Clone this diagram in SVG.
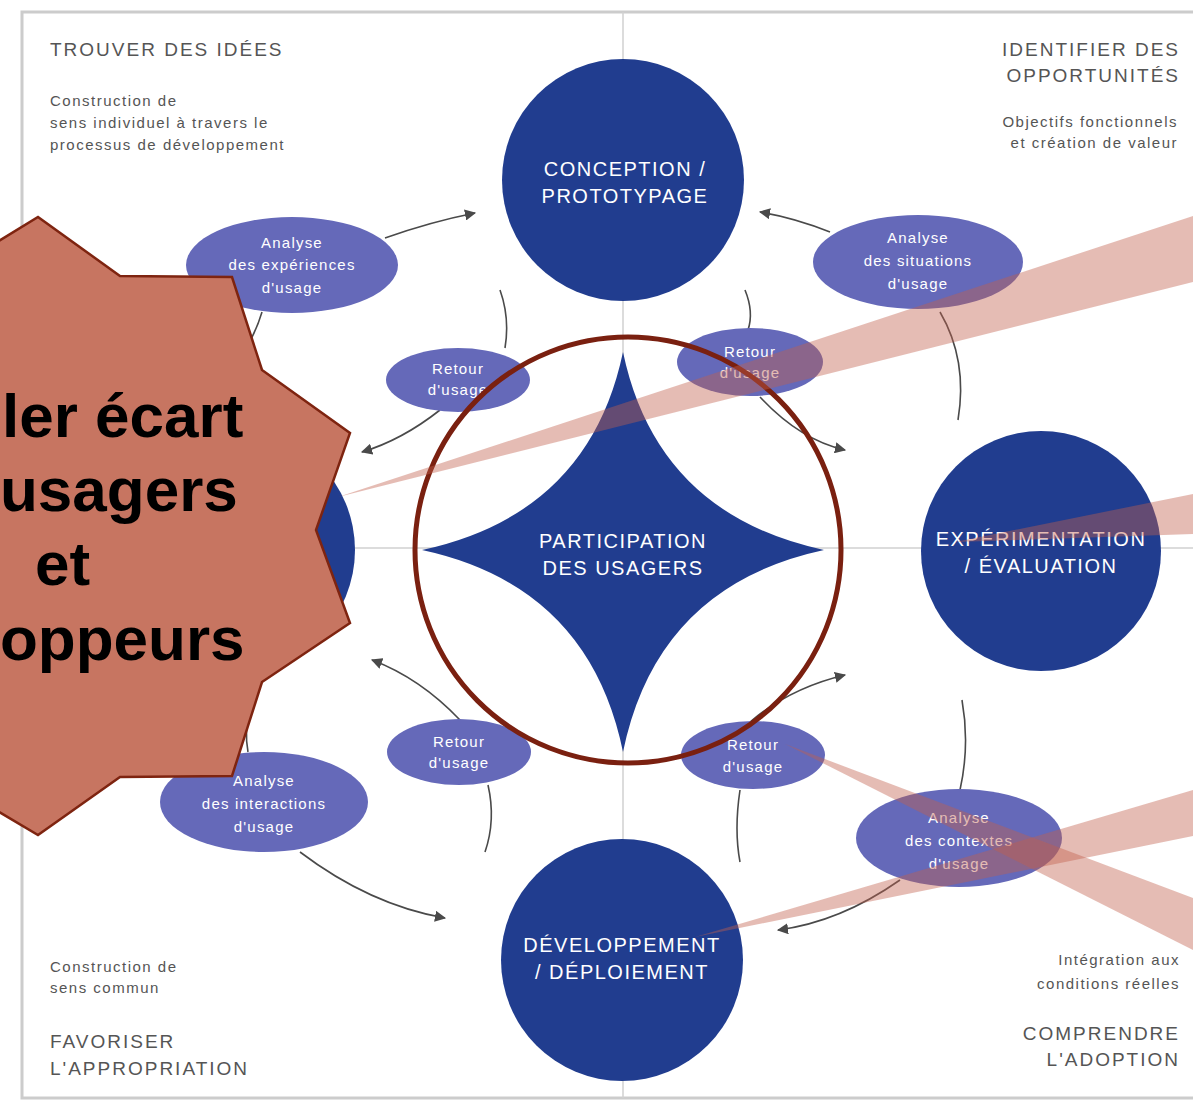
<svg xmlns="http://www.w3.org/2000/svg" width="1193" height="1102" viewBox="0 0 1193 1102">
<defs>
<style>
.big{fill:#213d8f}
.ell{fill:#6569b9}
.ct{font-family:"Liberation Sans",Arial,sans-serif;font-size:20px;fill:#ffffff;text-anchor:middle;letter-spacing:1.5px}
.et{font-family:"Liberation Sans",Arial,sans-serif;font-size:15px;fill:#ffffff;text-anchor:middle;letter-spacing:1.2px}
.hd{font-family:"Liberation Sans",Arial,sans-serif;font-size:19px;fill:#555555;letter-spacing:2px}
.sb{font-family:"Liberation Sans",Arial,sans-serif;font-size:15px;fill:#555555;letter-spacing:1.5px}
.con{fill:none;stroke:#4a4a4a;stroke-width:1.6}
.bar{fill:#c0604c;fill-opacity:0.42}
.cal{font-family:"Liberation Sans",Arial,sans-serif;font-size:62px;font-weight:bold;fill:#000000}
</style>
<marker id="ah" viewBox="0 0 10 10" refX="9" refY="5" markerWidth="7" markerHeight="7" orient="auto-start-reverse">
<path d="M0,0 L10,5 L0,10 z" fill="#4a4a4a"/>
</marker>
</defs>
<rect width="1193" height="1102" fill="#ffffff"/>
<g id="frame">
<rect x="22" y="12" width="1180" height="1086" fill="none" stroke="#cccccc" stroke-width="3"/>
<line x1="623" y1="12" x2="623" y2="1098" stroke="#d0d0d0" stroke-width="1.5"/>
<line x1="22" y1="548" x2="1193" y2="548" stroke="#d0d0d0" stroke-width="1.5"/>
</g>
<g id="corner-labels">
<text class="hd" x="50" y="56">TROUVER DES IDÉES</text>
<text class="sb" x="50" y="106">Construction de</text>
<text class="sb" x="50" y="128">sens individuel à travers le</text>
<text class="sb" x="50" y="150">processus de développement</text>
<text class="hd" x="1180" y="56" text-anchor="end">IDENTIFIER DES</text>
<text class="hd" x="1180" y="82" text-anchor="end">OPPORTUNITÉS</text>
<text class="sb" x="1178" y="127" text-anchor="end">Objectifs fonctionnels</text>
<text class="sb" x="1178" y="148" text-anchor="end">et création de valeur</text>
<text class="sb" x="50" y="972">Construction de</text>
<text class="sb" x="50" y="993">sens commun</text>
<text class="hd" x="50" y="1048">FAVORISER</text>
<text class="hd" x="50" y="1075">L'APPROPRIATION</text>
<text class="sb" x="1180" y="965" text-anchor="end">Intégration aux</text>
<text class="sb" x="1180" y="989" text-anchor="end">conditions réelles</text>
<text class="hd" x="1180" y="1040" text-anchor="end">COMPRENDRE</text>
<text class="hd" x="1180" y="1066" text-anchor="end">L'ADOPTION</text>
</g>
<g id="connectors">
<path class="con" d="M385,238 Q430,222 475,213" marker-end="url(#ah)"/>
<path class="con" d="M830,232 Q795,218 760,212" marker-end="url(#ah)"/>
<path class="con" d="M262,312 Q256,332 245,350"/>
<path class="con" d="M940,312 Q968,360 958,420"/>
<path class="con" d="M500,290 Q510,318 505,348"/>
<path class="con" d="M440,410 Q402,440 362,452" marker-end="url(#ah)"/>
<path class="con" d="M745,290 Q754,312 748,330"/>
<path class="con" d="M760,397 Q800,440 845,450" marker-end="url(#ah)"/>
<path class="con" d="M460,720 Q420,678 372,660" marker-end="url(#ah)"/>
<path class="con" d="M488,785 Q496,820 485,852"/>
<path class="con" d="M750,722 Q790,688 845,675" marker-end="url(#ah)"/>
<path class="con" d="M740,790 Q734,830 740,862"/>
<path class="con" d="M300,852 Q370,905 445,918" marker-end="url(#ah)"/>
<path class="con" d="M900,880 Q840,922 778,930" marker-end="url(#ah)"/>
<path class="con" d="M962,700 Q970,745 960,790"/>
<path class="con" d="M248,752 Q244,730 250,708"/>
</g>
<g id="node-conception">
<circle class="big" cx="623" cy="180" r="121"/>
<text class="ct" x="625" y="176">CONCEPTION /</text>
<text class="ct" x="625" y="203">PROTOTYPAGE</text>
</g>
<g id="node-experimentation">
<circle class="big" cx="1041" cy="551" r="120"/>
<text class="ct" x="1041" y="546">EXPÉRIMENTATION</text>
<text class="ct" x="1041" y="573">/ ÉVALUATION</text>
</g>
<g id="node-developpement">
<circle class="big" cx="622" cy="960" r="121"/>
<text class="ct" x="622" y="952">DÉVELOPPEMENT</text>
<text class="ct" x="622" y="979">/ DÉPLOIEMENT</text>
</g>
<g id="node-left">
<circle class="big" cx="233" cy="550" r="122"/>
</g>
<g id="node-analyse-tl">
<ellipse class="ell" cx="292" cy="265" rx="106" ry="48"/>
<text class="et" x="292" y="248">Analyse</text>
<text class="et" x="292" y="270">des expériences</text>
<text class="et" x="292" y="293">d'usage</text>
</g>
<g id="node-analyse-tr">
<ellipse class="ell" cx="918" cy="262" rx="105" ry="47"/>
<text class="et" x="918" y="243">Analyse</text>
<text class="et" x="918" y="266">des situations</text>
<text class="et" x="918" y="289">d'usage</text>
</g>
<g id="node-analyse-bl">
<ellipse class="ell" cx="264" cy="802" rx="104" ry="50"/>
<text class="et" x="264" y="786">Analyse</text>
<text class="et" x="264" y="809">des interactions</text>
<text class="et" x="264" y="832">d'usage</text>
</g>
<g id="node-analyse-br">
<ellipse class="ell" cx="959" cy="838" rx="103" ry="49"/>
<text class="et" x="959" y="823">Analyse</text>
<text class="et" x="959" y="846">des contextes</text>
<text class="et" x="959" y="869">d'usage</text>
</g>
<g id="node-retour-tl">
<ellipse class="ell" cx="458" cy="380" rx="72" ry="32"/>
<text class="et" x="458" y="374">Retour</text>
<text class="et" x="458" y="395">d'usage</text>
</g>
<g id="node-retour-tr">
<ellipse class="ell" cx="750" cy="362" rx="73" ry="34"/>
<text class="et" x="750" y="357">Retour</text>
<text class="et" x="750" y="378">d'usage</text>
</g>
<g id="node-retour-bl">
<ellipse class="ell" cx="459" cy="752" rx="72" ry="33"/>
<text class="et" x="459" y="747">Retour</text>
<text class="et" x="459" y="768">d'usage</text>
</g>
<g id="node-retour-br">
<ellipse class="ell" cx="753" cy="755" rx="72" ry="34"/>
<text class="et" x="753" y="750">Retour</text>
<text class="et" x="753" y="772">d'usage</text>
</g>
<g id="node-participation">
<path class="big" d="M623,352 Q657,514 824,550 Q657,586 623,752 Q589,586 422,550 Q589,514 623,352 Z"/>
<text class="ct" x="623" y="548">PARTICIPATION</text>
<text class="ct" x="623" y="575">DES USAGERS</text>
</g>
<g id="highlight-circle">
<circle cx="628" cy="550" r="213" fill="none" stroke="#7a2010" stroke-width="5"/>
</g>
<g id="pointer-bars">
<polygon class="bar" points="338,497 1193,216 1193,282"/>
<polygon class="bar" points="955,542 1193,494 1193,534"/>
<polygon class="bar" points="695,937 1193,790 1193,836"/>
<polygon class="bar" points="785,744 1193,898 1193,950"/>
</g>
<g id="callout">
<polygon points="38,217 120,276 232,277 262,370 350,433 316,530 350,623 262,682 232,776 120,777 38,835 -60,777 -60,277" fill="#c77561" stroke="#7e2410" stroke-width="2.5"/>
<text class="cal" x="2" y="437">ler écart</text>
<text class="cal" x="0" y="511">usagers</text>
<text class="cal" x="35" y="585">et</text>
<text class="cal" x="0" y="660">oppeurs</text>
</g>
</svg>
